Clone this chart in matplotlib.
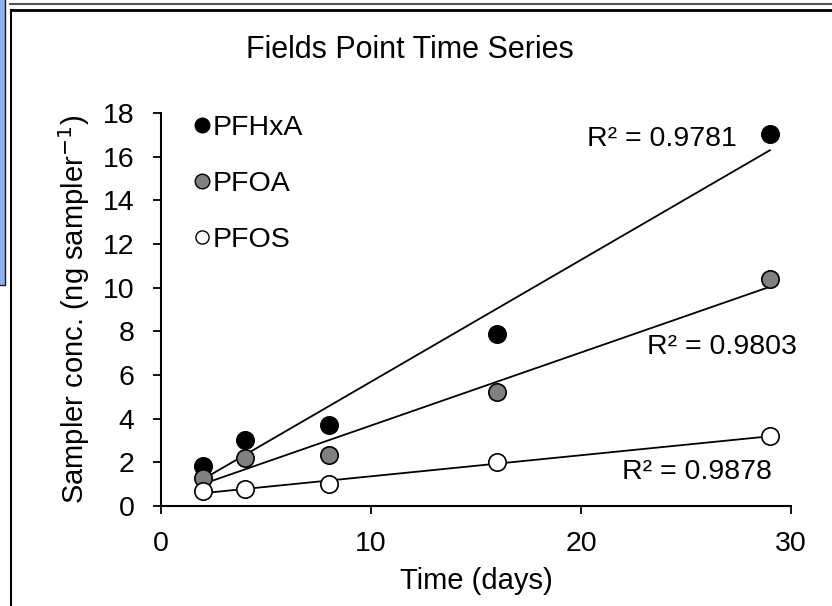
import numpy as np
import matplotlib
matplotlib.use("Agg")
import matplotlib.pyplot as plt
from matplotlib.patches import Rectangle
from matplotlib.lines import Line2D

plt.rcParams['font.family'] = ['Liberation Sans', 'DejaVu Sans']

days = [2, 4, 8, 16, 29]
pfhxa = [1.83, 3.02, 3.71, 7.88, 17.04]
pfoa = [1.28, 2.2, 2.34, 5.22, 10.4]
pfos = [0.69, 0.78, 1.0, 2.0, 3.2]
series_names = ["PFHxA", "PFOA", "PFOS"]
r2_labels = ["R² = 0.9781", "R² = 0.9803", "R² = 0.9878"]
r2_pos = [(27.4, 16.8), (30.3, 7.3), (29.1, 1.56)]

W, H = 832, 606
fig = plt.figure(figsize=(W / 100, H / 100), dpi=100)
fig.patch.set_facecolor("white")

# decorative frame
fig.add_artist(Rectangle((0, 1 - 285 / H), 5 / W, 285 / H, transform=fig.transFigure,
                         facecolor="#8fb0ee", edgecolor="none"))
fig.add_artist(Line2D([5 / W, 5 / W, 0], [1, 1 - 285 / H, 1 - 285 / H], transform=fig.transFigure,
                      color="#1a1a1a", lw=1.0))
fig.add_artist(Line2D([10 / W, 1], [1 - 3.5 / H] * 2, transform=fig.transFigure, color="#555555", lw=1.5))
fig.add_artist(Line2D([11 / W, 1], [1 - 9.5 / H] * 2, transform=fig.transFigure, color="black", lw=2))
fig.add_artist(Line2D([11 / W] * 2, [0, 1 - 9.5 / H], transform=fig.transFigure, color="black", lw=1.5))

ax = fig.add_axes([161 / W, 1 - 506 / H, (791 - 161) / W, (506 - 113) / H])
ax.set_xlim(0, 30)
ax.set_ylim(0, 18)

styles = [("black", pfhxa), ("#808080", pfoa), ("white", pfos)]
x = np.array(days, dtype=float)
for (fc, vals) in styles:
    v = np.array(vals)
    m, b = np.polyfit(x, v, 1)
    xs = np.array([x.min(), x.max()])
    ax.plot(xs, m * xs + b, color="black", lw=1.3, zorder=2)
for (fc, vals), name in zip(styles, series_names):
    ax.plot(days, vals, linestyle="none", marker="o", ms=12.5, mfc=fc, mec="black", mew=1.2,
            label=name, zorder=3)

for lbl, (lx, ly) in zip(r2_labels, r2_pos):
    ax.text(lx, ly, lbl, ha="right", va="center", fontsize=20.5)

handles = [Line2D([], [], linestyle="none", marker="o", ms=ms, mfc=fc, mec="black", mew=1.0)
           for fc, ms in [("black", 10.5), ("#808080", 10.5), ("white", 9.5)]]
ax.legend(handles, series_names, loc="upper left", bbox_to_anchor=(0.052, 0.995), frameon=False,
          fontsize=20.5, handlelength=0.55, handletextpad=0.1, labelspacing=1.05, borderaxespad=0,
          borderpad=0)

for s in ["top", "right"]:
    ax.spines[s].set_visible(False)
for s in ["left", "bottom"]:
    ax.spines[s].set_linewidth(1.5)
ax.set_xticks([0, 10, 20, 30])
ax.set_yticks(range(0, 19, 2))
ax.tick_params(direction="out", length=6, width=1.3, labelsize=20.5)
ax.tick_params(axis="y", pad=13)
ax.tick_params(axis="x", pad=12)
ax.set_xlabel("Time (days)", fontsize=21, labelpad=7)
ax.set_ylabel("Sampler conc. (ng sampler$^{-1}$)", fontsize=21, labelpad=8)
fig.text(410 / W, 1 - 50 / H, "Fields Point Time Series", ha="center", va="center", fontsize=22)

fig.savefig("out.png", dpi=100)
